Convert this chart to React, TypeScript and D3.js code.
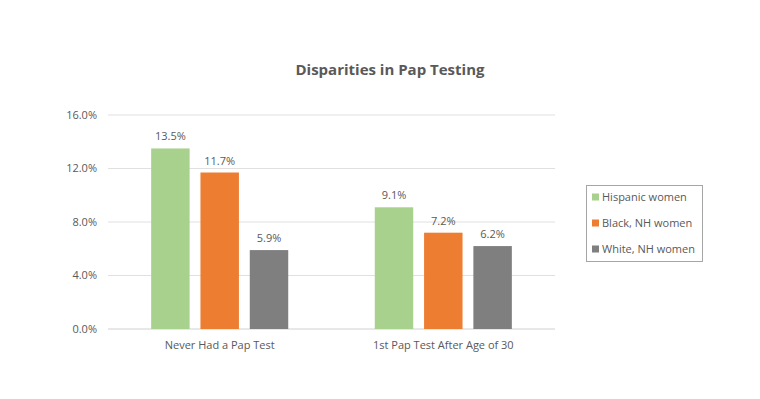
import React from "react";
import * as d3 from "d3";

const categories = ["Never Had a Pap Test", "1st Pap Test After Age of 30"];
const seriesNames = ["Hispanic women", "Black, NH women", "White, NH women"];
const seriesColors = ["#a9d18e", "#ed7d31", "#7f7f7f"];
const hispanic = [13.5, 9.1];
const black = [11.7, 7.2];
const white = [5.9, 6.2];
const yTicks = [0, 4, 8, 12, 16];

export default function App() {
  const W = 760, H = 399;
  const left = 108, right = 555, top = 115, bottom = 329;
  const series = [hispanic, black, white];
  const x0 = d3.scaleBand<string>().domain(categories).range([left, right]).paddingInner(0.387).paddingOuter(0.193);
  const x1 = d3.scaleBand<number>().domain([0, 1, 2]).range([0, x0.bandwidth()]).paddingInner(0.22).paddingOuter(0);
  const y = d3.scaleLinear().domain([0, 16]).range([bottom, top]);
  const font = "'Open Sans', 'Liberation Sans', sans-serif";
  const textColor = "#595959";
  return (
    <svg width={W} height={H} style={{ position: "absolute", left: 0, top: 0, background: "#fff" }} fontFamily={font}>
      <rect width={W} height={H} fill="#fff" />
      <text x={390} y={75} textAnchor="middle" fontSize={15} fontWeight="bold" fill="#595959">Disparities in Pap Testing</text>
      {yTicks.map((t) => (
        <g key={t}>
          <line x1={left} x2={right} y1={y(t)} y2={y(t)} stroke={t === 0 ? "#d0d0d0" : "#e0e0e0"} strokeWidth={1} />
          <text x={left - 11} y={y(t)} dy="0.35em" textAnchor="end" fontSize={11} fill={textColor}>{t.toFixed(1)}%</text>
        </g>
      ))}
      {categories.map((c, ci) => (
        <g key={c} transform={`translate(${x0(c)},0)`}>
          {series.map((s, si) => (
            <g key={si}>
              <rect x={x1(si)} y={y(s[ci])} width={x1.bandwidth()} height={y(0) - y(s[ci])} fill={seriesColors[si]} />
              <text x={(x1(si) as number) + x1.bandwidth() / 2} y={y(s[ci]) - 8} textAnchor="middle" fontSize={11} fill={textColor}>{s[ci].toFixed(1)}%</text>
            </g>
          ))}
          <text x={x0.bandwidth() / 2} y={349} textAnchor="middle" fontSize={11} fill={textColor}>{c}</text>
        </g>
      ))}
      <rect x={586.5} y={185.5} width={116} height={76} fill="#fff" stroke="#a6a6a6" />
      {seriesNames.map((n, i) => (
        <g key={n}>
          <rect x={592} y={197 + i * 26 - 3.5} width={7} height={7} fill={seriesColors[i]} />
          <text x={602} y={197 + i * 26} dy="0.35em" fontSize={11} fill={textColor}>{n}</text>
        </g>
      ))}
    </svg>
  );
}
